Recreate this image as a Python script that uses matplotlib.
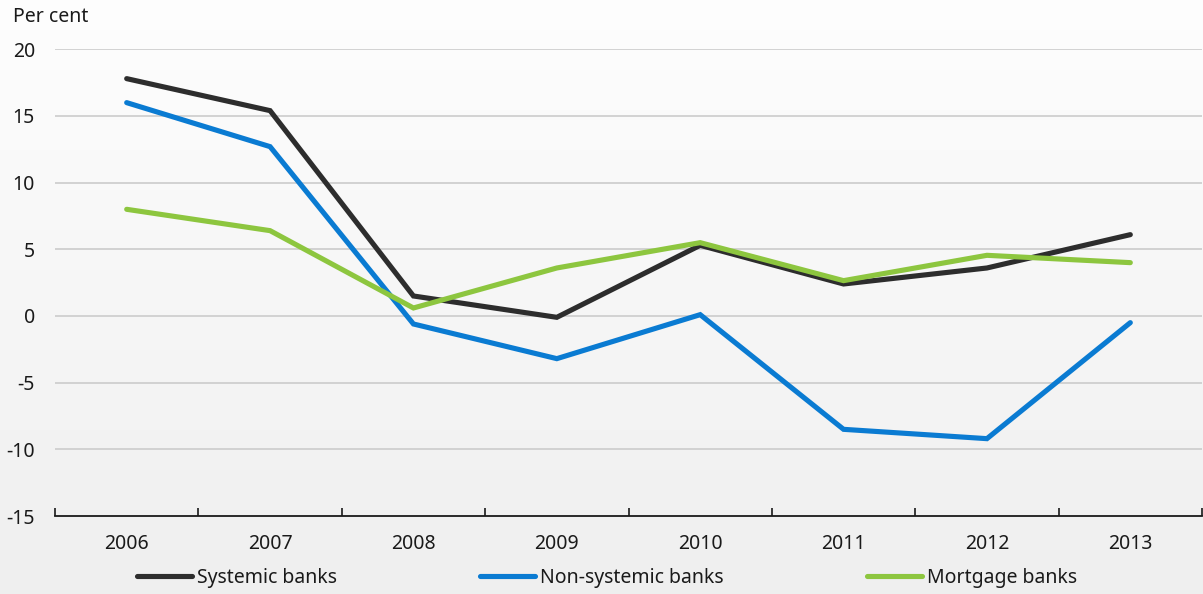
import numpy as np
import matplotlib
matplotlib.use("Agg")
import matplotlib.pyplot as plt

years = ["2006", "2007", "2008", "2009", "2010", "2011", "2012", "2013"]
systemic = [17.8, 15.4, 1.5, -0.1, 5.3, 2.4, 3.6, 6.1]
non_systemic = [16.0, 12.7, -0.6, -3.2, 0.1, -8.5, -9.2, -0.5]
mortgage = [8.0, 6.4, 0.6, 3.6, 5.5, 2.65, 4.55, 4.0]

series_names = ["Systemic banks", "Non-systemic banks", "Mortgage banks"]
series_colors = ["#2d2d2d", "#0a7bd2", "#8dc63f"]

plt.rcParams["font.family"] = ["Noto Sans", "DejaVu Sans"]
FS = 14

W, H, DPI = 1203, 594, 100
fig = plt.figure(figsize=(W / DPI, H / DPI), dpi=DPI)

# soft vertical gradient behind everything
bg = fig.add_axes([0, 0, 1, 1], zorder=-10)
grad = np.linspace(0.995, 0.937, 256).reshape(-1, 1)
bg.imshow(np.dstack([grad, grad, grad]), aspect="auto", extent=[0, 1, 0, 1])
bg.set_axis_off()

left, right = 55 / W, 1202 / W
bottom, top = 1 - 516 / H, 1 - 49.3 / H
ax = fig.add_axes([left, bottom, right - left, top - bottom])
ax.set_facecolor("none")

x = np.arange(len(years))
for vals, name, col in zip([systemic, non_systemic, mortgage], series_names, series_colors):
    ax.plot(x, vals, color=col, lw=3.7, label=name,
            solid_capstyle="round", solid_joinstyle="miter", zorder=3)

ax.set_xlim(-0.5, len(years) - 0.5)
ax.set_ylim(-15, 20)
ax.set_yticks(np.arange(-15, 21, 5))
ax.set_yticklabels([str(v) for v in range(-15, 21, 5)], fontsize=FS)
for v in range(-10, 21, 5):
    ax.axhline(v, color="#cfcfcf", lw=1.3, zorder=1)

ax.set_xticks(x)
ax.set_xticklabels(years, fontsize=FS)
ax.set_xticks(np.arange(-0.5, len(years), 1), minor=True)
ax.tick_params(axis="x", which="major", length=0, pad=13, colors="#1a1a1a")
ax.tick_params(axis="x", which="minor", direction="in", length=6, width=1.2, color="#1a1a1a")
ax.tick_params(axis="y", length=0, pad=14.4, colors="#1a1a1a")

for s in ["top", "right", "left"]:
    ax.spines[s].set_visible(False)
ax.spines["bottom"].set_color("#1a1a1a")
ax.spines["bottom"].set_linewidth(1.3)
ax.spines["bottom"].set_zorder(4)

fig.text(13 / W, 1 - 17 / H, "Per cent", fontsize=FS, va="center", ha="left", color="#1a1a1a")

leg = fig.legend(loc="center", bbox_to_anchor=(607 / W, 1 - 578 / H), ncol=3,
                 frameon=False, fontsize=FS, handlelength=2.83, handletextpad=0.26,
                 columnspacing=7.35, borderpad=0, borderaxespad=0)
for t in leg.get_texts():
    t.set_color("#1a1a1a")

fig.savefig("out.png", dpi=DPI)
